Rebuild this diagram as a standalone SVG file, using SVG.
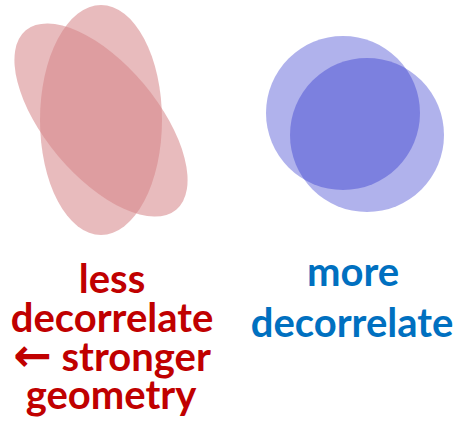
<svg xmlns="http://www.w3.org/2000/svg" width="456" height="424" viewBox="0 0 456 424">
<style>
.red{fill:rgb(214,134,138);fill-opacity:0.56}
.blue{fill:rgb(30,35,200);fill-opacity:0.35}
text{font-family:Lato,"Liberation Sans",sans-serif;font-weight:bold;font-size:40px;text-anchor:middle}
.lt{fill:#C00000}
.rt{fill:#0070C0}
.arr{font-family:"DejaVu Sans",sans-serif;font-weight:bold;font-size:46px}
</style>
<rect width="456" height="424" fill="#fff"/>
<g id="less-ellipses">
<ellipse class="red" cx="101" cy="120" rx="61" ry="115"/>
<ellipse class="red" cx="101" cy="120" rx="56" ry="117" transform="rotate(-40 101 120)"/>
</g>
<g id="more-circles">
<circle class="blue" cx="343" cy="113" r="77"/>
<circle class="blue" cx="367" cy="135" r="77"/>
</g>
<g id="left-label">
<text class="lt"><tspan x="112" y="293">less</tspan><tspan x="112" y="332">decorrelate</tspan><tspan x="112" y="371"><tspan class="arr">←</tspan> stronger</tspan><tspan x="111" y="409">geometry</tspan></text>
</g>
<g id="right-label">
<text class="rt"><tspan x="353" y="286">more</tspan><tspan x="352" y="337">decorrelate</tspan></text>
</g>
</svg>
